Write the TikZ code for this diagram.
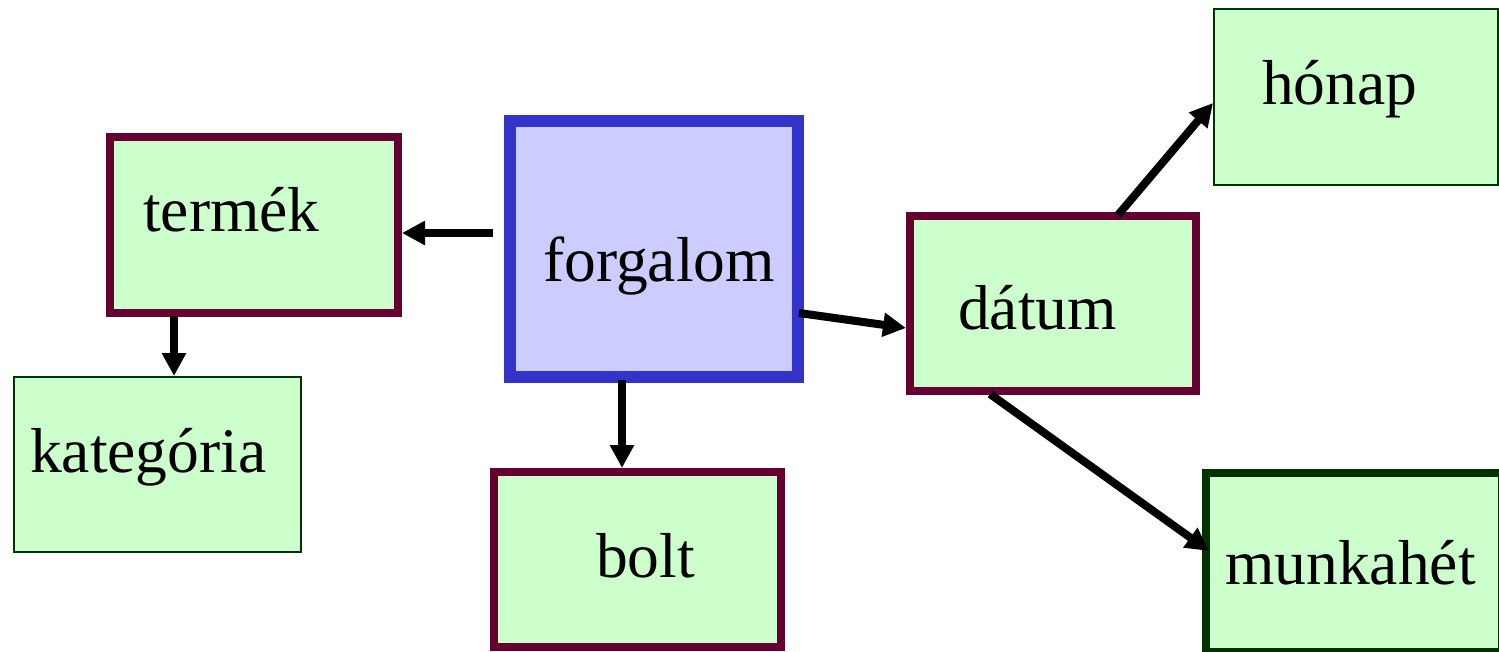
\documentclass[tikz,border=0pt]{standalone}
\usepackage{fontspec}
\setmainfont{Liberation Serif}
\usetikzlibrary{arrows.meta}
\definecolor{maroon}{HTML}{660033}
\definecolor{boxblue}{HTML}{3333CC}
\definecolor{lilac}{HTML}{CCCCFF}
\definecolor{mint}{HTML}{CCFFCC}
\definecolor{forest}{HTML}{003300}
\begin{document}
\begin{tikzpicture}[x=1pt,y=-1pt,
  box/.style={draw, fill=mint, inner sep=0pt, rectangle},
  dimbox/.style={box, draw=maroon, line width=8pt},
  thinbox/.style={box, draw=forest, line width=2pt},
  factbox/.style={box, draw=boxblue, fill=lilac, line width=12pt},
  weekbox/.style={box, draw=forest, line width=8pt},
  lbl/.style={anchor=base west, inner sep=0pt, font=\fontsize{63.5}{70}\selectfont},
  arr/.style={line width=8pt, -{Triangle[length=23pt,width=23pt]}}]
\useasboundingbox (0,0) rectangle (1499,652);
\clip (0,0) rectangle (1499,652);

% boxes
\node[dimbox,  minimum width=288pt, minimum height=176pt] (termek) at (254,225) {};
\node[thinbox, minimum width=287pt, minimum height=175pt] (kat)    at (157.5,464.5) {};
\node[factbox, minimum width=288pt, minimum height=256pt] (forg)   at (654,249) {};
\node[dimbox,  minimum width=287pt, minimum height=175pt] (bolt)   at (637.5,559.5) {};
\node[dimbox,  minimum width=286pt, minimum height=175pt] (datum)  at (1053,303.5) {};
\node[thinbox, minimum width=284pt, minimum height=176pt] (honap)  at (1356,97) {};
\node[weekbox, minimum width=296pt, minimum height=179pt] (munka)  at (1354,562.5) {};

% labels
\node[lbl] (termek-t) at (143,232) {termék};
\node[lbl] (kat-t)    at (30,472)  {kategória};
\node[lbl] (forg-t)   at (543,282) {forgalom};
\node[lbl] (bolt-t)   at (596,577) {bolt};
\node[lbl] (datum-t)  at (958,329) {dátum};
\node[lbl] (honap-t)  at (1262,105) {hónap};
\node[lbl] (munka-t)  at (1225,584) {munkahét};

% connector start points
\coordinate (s1) at (493,233);
\coordinate (s2) at (174,316);
\coordinate (s3) at (622,380);
\coordinate (s4) at (799,313);
\coordinate (s5) at (1118,215);
\coordinate (s6) at (990,394);
\coordinate (e4) at (906,328);
\coordinate (e5) at (1213,103);
\coordinate (e6) at (1209,551);

% connectors
\draw[arr] (s1) -- (termek.east |- s1);
\draw[arr] (s2) -- (kat.north -| s2);
\draw[arr] (s3) -- (bolt.north -| s3);
\draw[arr] (s4) -- (e4);
\draw[arr] (s5) -- (e5);
\draw[arr] (s6) -- (e6);
\end{tikzpicture}
\end{document}
